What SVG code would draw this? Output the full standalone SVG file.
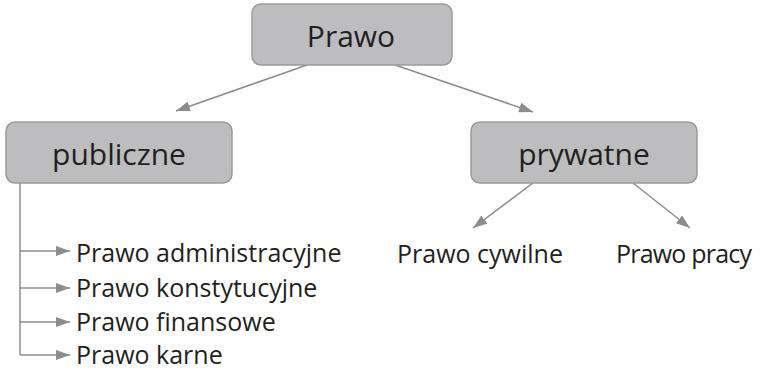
<svg xmlns="http://www.w3.org/2000/svg" width="761" height="370" viewBox="0 0 761 370">
<defs>
<marker id="ah2" viewBox="0 0 14 10" refX="14" refY="5" markerWidth="14" markerHeight="10" markerUnits="userSpaceOnUse" orient="auto">
<path d="M0,0 L14,5 L0,10 Z" fill="#8c8c8e"/>
</marker>
</defs>
<style>
.box{fill:#bdbdbf;stroke:#9a9a9c;stroke-width:1.5}
.t{font-family:"Open Sans","Liberation Sans",sans-serif;fill:#231f20}
.big{font-size:30px;text-anchor:middle}
.sm{font-size:25px}
.c{stroke:#8c8c8e;stroke-width:1.5;fill:none}
</style>
<rect width="761" height="370" fill="#fff"/>
<g id="connectors">
<line class="c" x1="307" y1="65" x2="176" y2="111" marker-end="url(#ah2)"/>
<line class="c" x1="395" y1="65" x2="533" y2="112" marker-end="url(#ah2)"/>
<line class="c" x1="533" y1="183" x2="473" y2="228" marker-end="url(#ah2)"/>
<line class="c" x1="633" y1="183" x2="690" y2="228" marker-end="url(#ah2)"/>
<path class="c" d="M20,183 V355"/>
<line class="c" x1="20" y1="251" x2="70" y2="251" marker-end="url(#ah2)"/>
<line class="c" x1="20" y1="288" x2="70" y2="288" marker-end="url(#ah2)"/>
<line class="c" x1="20" y1="322" x2="70" y2="322" marker-end="url(#ah2)"/>
<path class="c" d="M20,355 H70" marker-end="url(#ah2)"/>
</g>
<g id="prawo">
<rect class="box" x="252" y="4" width="200" height="61" rx="9"/>
<text class="t big" x="351" y="47">Prawo</text>
</g>
<g id="publiczne">
<rect class="box" x="6" y="122" width="226" height="61" rx="9"/>
<text class="t big" x="119" y="165">publiczne</text>
</g>
<g id="prywatne">
<rect class="box" x="471" y="122" width="226" height="61" rx="9"/>
<text class="t big" x="584" y="165">prywatne</text>
</g>
<g id="cywilne"><text class="t sm" x="397" y="263">Prawo cywilne</text></g>
<g id="pracy"><text class="t sm" x="616" y="263" textLength="136">Prawo pracy</text></g>
<g id="administracyjne"><text class="t sm" x="76" y="262">Prawo administracyjne</text></g>
<g id="konstytucyjne"><text class="t sm" x="76" y="297">Prawo konstytucyjne</text></g>
<g id="finansowe"><text class="t sm" x="76" y="331">Prawo finansowe</text></g>
<g id="karne"><text class="t sm" x="76" y="364">Prawo karne</text></g>
</svg>
